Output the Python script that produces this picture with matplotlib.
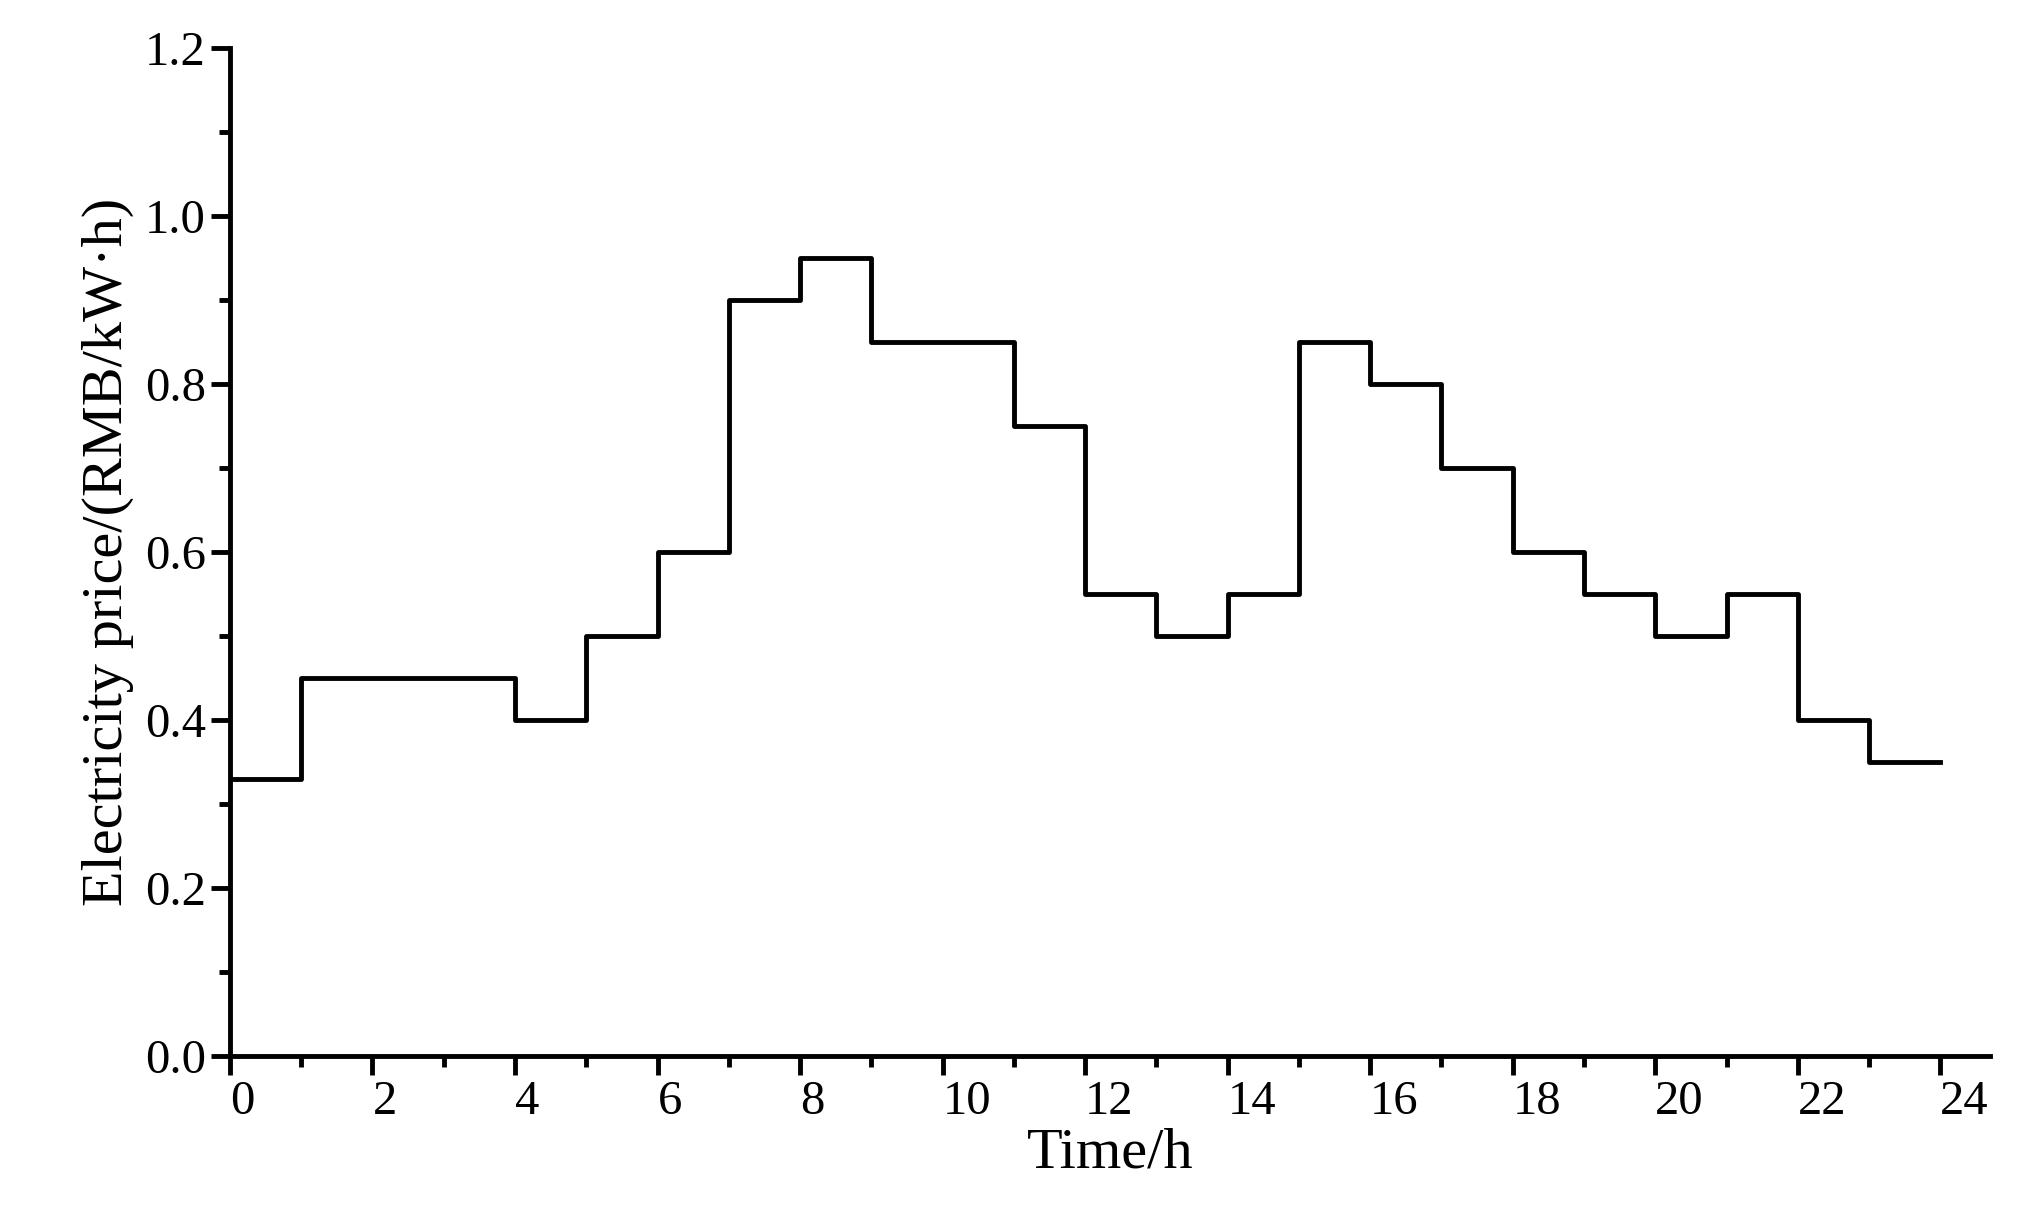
import numpy as np
from matplotlib import pyplot as plt
from matplotlib.ticker import MultipleLocator

plt.rcParams['font.family'] = ['Liberation Serif', 'DejaVu Serif']

hours = list(range(25))
price = [0.33, 0.45, 0.45, 0.45, 0.40, 0.50, 0.60, 0.90, 0.95, 0.85, 0.85, 0.75,
         0.55, 0.50, 0.55, 0.85, 0.80, 0.70, 0.60, 0.55, 0.50, 0.55, 0.40, 0.35, 0.35]

fig = plt.figure(figsize=(20.35, 12.21), dpi=100)
ax = fig.add_axes([0.113, 0.135, 0.865, 0.826])
ax.step(hours, price, where='post', color='black', linewidth=3.5)

ax.set_xlim(0, 24.7)
ax.set_ylim(0, 1.2)
ax.xaxis.set_major_locator(MultipleLocator(2))
ax.xaxis.set_minor_locator(MultipleLocator(1))
ax.yaxis.set_major_locator(MultipleLocator(0.2))
ax.yaxis.set_minor_locator(MultipleLocator(0.1))
ax.yaxis.set_major_formatter(plt.FormatStrFormatter('%.1f'))
for s in ['top', 'right']:
    ax.spines[s].set_visible(False)
for s in ['left', 'bottom']:
    ax.spines[s].set_linewidth(3.5)
ax.tick_params(which='major', length=14, width=3.5, labelsize=35)
ax.tick_params(which='minor', length=8, width=3.5)
for lab in ax.get_xticklabels():
    lab.set_horizontalalignment('left')
ax.set_xlabel('Time/h', fontsize=42, labelpad=2)
ax.set_ylabel('Electricity price/(RMB/kW·h)', fontsize=42, labelpad=8)
fig.savefig('out.png', dpi=100)
